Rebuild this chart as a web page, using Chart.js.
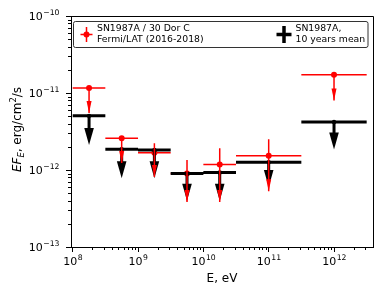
<!DOCTYPE html>
<html>
<head>
<meta charset="utf-8">
<script src="https://cdn.jsdelivr.net/npm/chart.js@4"></script>
<style>
  body { margin: 0; background: #fff; }
  canvas { display: block; }
</style>
</head>
<body>
<canvas id="sed" width="390" height="293"></canvas>
<script>
// energy bins (eV)
const binLo  = [1e8,    3.16e8, 1e9,    3.16e9, 1e10,    3.16e10, 3.16e11];
const binHi  = [3.16e8, 1e9,    3.16e9, 1e10,   3.16e10, 3.16e11, 3.16e12];
const binMid = [1.78e8, 5.62e8, 1.78e9, 5.62e9, 1.78e10, 1e11,    1e12];

// SN1987A / 30 Dor C, Fermi/LAT (2016-2018), erg/cm2/s
const redFlux  = [1.16e-11, 2.58e-12, 1.67e-12, 9.0e-13,  1.18e-12, 1.53e-12, 1.73e-11];
const redErrHi = [1.16e-11, 2.58e-12, 2.22e-12, 1.35e-12, 1.91e-12, 2.5e-12,  1.73e-11];
const redTip   = [5.5e-12,  1.23e-12, 8.1e-13,  3.85e-13, 3.85e-13, 5.3e-13,  7.97e-12];

// SN1987A, 10 years mean (upper limits)
const blackFlux = [5.05e-12, 1.86e-12, 1.82e-12, 9.0e-13, 9.3e-13, 1.26e-12, 4.2e-12];
const blackTip  = [2.11e-12, 7.8e-13,  7.8e-13,  4.0e-13, 4.0e-13, 6.0e-13,  1.85e-12];

// axes
const xTicks = [1e8, 1e9, 1e10, 1e11, 1e12];
const yTicks = [1e-13, 1e-12, 1e-11, 1e-10];
const xMin = 9.42e7, xMax = 3.95e12;
const yMin = 1e-13, yMax = 1e-10;

const redLabel = ['SN1987A / 30 Dor C', 'Fermi/LAT (2016-2018)'];
const blackLabel = ['SN1987A,', '10 years mean'];

const FONT = 'DejaVu Sans';
const RED = '#ff0000';

// "10" + exponent, exponent drawn smaller and raised
function expOf(v) {
  return String(Math.round(Math.log10(v))).replace('-', '\u2212');
}
function drawPow(ctx, v, x, base, align) {
  const big = '11px "' + FONT + '"', small = '7.7px "' + FONT + '"';
  const e = expOf(v);
  ctx.font = big;
  const w1 = ctx.measureText('10').width;
  ctx.font = small;
  const w2 = ctx.measureText(e).width;
  let x0 = x;
  if (align === 'center') x0 = x - (w1 + w2) / 2;
  if (align === 'right') x0 = x - (w1 + w2);
  ctx.textAlign = 'left';
  ctx.textBaseline = 'alphabetic';
  ctx.font = big;
  ctx.fillText('10', x0, base);
  ctx.font = small;
  ctx.fillText(e, x0 + w1 + 0.5, base - 5);
}

// segments with null gaps so one dataset can hold many lines
function hSegments(lo, hi, y) {
  const out = [];
  for (let i = 0; i < y.length; i++) {
    out.push({x: lo[i], y: y[i]}, {x: hi[i], y: y[i]}, {x: hi[i], y: null});
  }
  return out;
}
function vSegments(x, top, bottom) {
  const out = [];
  for (let i = 0; i < x.length; i++) {
    out.push({x: x[i], y: top[i]}, {x: x[i], y: bottom[i]}, {x: x[i], y: null});
  }
  return out;
}
const points = (x, y) => x.map((v, i) => ({x: v, y: y[i]}));

// arrow heads, minor ticks, tick labels, frame, y title, legend
const extras = {
  id: 'extras',
  afterDatasetDraw(chart, args) {
    const ctx = chart.ctx;
    const xs = chart.scales.x, ys = chart.scales.y;
    if (args.index === 1) {
      // black upper-limit arrows
      ctx.save();
      ctx.fillStyle = '#000';
      ctx.strokeStyle = '#000';
      ctx.lineWidth = 3;
      for (let i = 0; i < binMid.length; i++) {
        const px = xs.getPixelForValue(binMid[i]);
        const y0 = ys.getPixelForValue(blackFlux[i]);
        const y1 = ys.getPixelForValue(blackTip[i]);
        const head = 17;
        ctx.beginPath();
        ctx.moveTo(px, y0);
        ctx.lineTo(px, y1 - head + 1);
        ctx.stroke();
        ctx.beginPath();
        ctx.moveTo(px - 4.8, y1 - head);
        ctx.lineTo(px + 4.8, y1 - head);
        ctx.lineTo(px, y1);
        ctx.closePath();
        ctx.fill();
      }
      ctx.restore();
    }
    if (args.index === 0) {
      // red arrow heads
      ctx.save();
      ctx.fillStyle = RED;
      for (let i = 0; i < binMid.length; i++) {
        const px = xs.getPixelForValue(binMid[i]);
        const y1 = ys.getPixelForValue(redTip[i]);
        ctx.beginPath();
        ctx.moveTo(px - 2.5, y1 - 12);
        ctx.lineTo(px + 2.5, y1 - 12);
        ctx.lineTo(px, y1);
        ctx.closePath();
        ctx.fill();
      }
      ctx.restore();
    }
  },
  afterDraw(chart) {
    const ctx = chart.ctx;
    const ca = chart.chartArea;
    const xs = chart.scales.x, ys = chart.scales.y;
    ctx.save();
    ctx.strokeStyle = '#000';
    ctx.lineWidth = 1;

    // minor ticks
    ctx.beginPath();
    for (let e = 7; e <= 12; e++) {
      for (let k = 2; k <= 9; k++) {
        const v = k * Math.pow(10, e);
        if (v < xMin || v > xMax) continue;
        const px = Math.round(xs.getPixelForValue(v)) + 0.5;
        ctx.moveTo(px, ca.bottom);
        ctx.lineTo(px, ca.bottom + 3);
      }
    }
    for (let e = -13; e <= -11; e++) {
      for (let k = 2; k <= 9; k++) {
        const v = k * Math.pow(10, e);
        const py = Math.round(ys.getPixelForValue(v)) + 0.5;
        ctx.moveTo(ca.left, py);
        ctx.lineTo(ca.left - 3, py);
      }
    }
    // top and right frame
    ctx.moveTo(ca.left, Math.round(ca.top) + 0.5);
    ctx.lineTo(Math.round(ca.right) + 0.5, Math.round(ca.top) + 0.5);
    ctx.lineTo(Math.round(ca.right) + 0.5, ca.bottom);
    ctx.stroke();

    // tick labels
    ctx.fillStyle = '#000';
    xTicks.forEach(v => drawPow(ctx, v, xs.getPixelForValue(v), ca.bottom + 18, 'center'));
    yTicks.forEach(v => drawPow(ctx, v, ca.left - 12, ys.getPixelForValue(v) + 4, 'right'));
    ctx.restore();

    // y title: EF_E, erg/cm^2/s
    ctx.save();
    ctx.translate(21, (ca.top + ca.bottom) / 2 - 2);
    ctx.rotate(-Math.PI / 2);
    ctx.fillStyle = '#000';
    ctx.textBaseline = 'alphabetic';
    const parts = [
      {t: 'EF', f: 'italic 12px "' + FONT + '"', dy: 0},
      {t: 'E', f: 'italic 8.4px "' + FONT + '"', dy: 2.5},
      {t: ', erg/cm', f: '12px "' + FONT + '"', dy: 0},
      {t: '2', f: '8.4px "' + FONT + '"', dy: -4.8},
      {t: '/s', f: '12px "' + FONT + '"', dy: 0}
    ];
    let total = 0;
    parts.forEach(p => { ctx.font = p.f; p.w = ctx.measureText(p.t).width; total += p.w; });
    let cx = -total / 2;
    parts.forEach(p => { ctx.font = p.f; ctx.fillText(p.t, cx, p.dy); cx += p.w; });
    ctx.restore();

    // legend
    ctx.save();
    const lx0 = ca.left + 2, ly0 = ca.top + 5, lx1 = ca.right - 5.5, ly1 = ca.top + 31;
    ctx.beginPath();
    ctx.roundRect(lx0 + 0.5, ly0 + 0.5, lx1 - lx0, ly1 - ly0, 2);
    ctx.fillStyle = 'rgba(255,255,255,0.85)';
    ctx.fill();
    ctx.strokeStyle = '#333';
    ctx.lineWidth = 1;
    ctx.stroke();

    const hy = (ly0 + ly1) / 2 + 0.5;
    // red handle
    const rx = ca.left + 15.5;
    ctx.strokeStyle = RED;
    ctx.fillStyle = RED;
    ctx.lineWidth = 1.5;
    ctx.beginPath();
    ctx.moveTo(rx - 6, hy); ctx.lineTo(rx + 6, hy);
    ctx.moveTo(rx, hy - 7.5); ctx.lineTo(rx, hy + 7.5);
    ctx.stroke();
    ctx.beginPath();
    ctx.arc(rx, hy, 3, 0, Math.PI * 2);
    ctx.fill();
    // black handle
    const bx = ca.left + 213;
    ctx.strokeStyle = '#000';
    ctx.lineWidth = 3.5;
    ctx.beginPath();
    ctx.moveTo(bx - 7.5, hy); ctx.lineTo(bx + 7.5, hy);
    ctx.moveTo(bx, hy - 8.5); ctx.lineTo(bx, hy + 8.5);
    ctx.stroke();

    ctx.fillStyle = '#000';
    ctx.font = '9.3px "' + FONT + '"';
    ctx.textBaseline = 'middle';
    ctx.textAlign = 'left';
    ctx.fillText(redLabel[0], ca.left + 26, hy - 5.7);
    ctx.fillText(redLabel[1], ca.left + 26, hy + 5.3);
    ctx.fillText(blackLabel[0], ca.left + 224.5, hy - 5.7);
    ctx.fillText(blackLabel[1], ca.left + 224.5, hy + 5.3);
    ctx.restore();
  }
};

new Chart(document.getElementById('sed'), {
  type: 'scatter',
  data: {
    datasets: [
      {
        label: 'red errors',
        data: vSegments(binMid, redErrHi, redTip),
        showLine: true, borderColor: RED, borderWidth: 1.5,
        pointRadius: 0, order: 0
      },
      {
        label: 'black markers',
        data: points(binMid, blackFlux),
        backgroundColor: '#000', borderColor: '#000',
        pointRadius: 2.2, borderWidth: 0, order: 1
      },
      {
        label: 'black bins',
        data: hSegments(binLo, binHi, blackFlux),
        showLine: true, borderColor: '#000', borderWidth: 3,
        pointRadius: 0, order: 2
      },
      {
        label: 'red points',
        data: points(binMid, redFlux),
        backgroundColor: RED, borderColor: RED,
        pointRadius: 3, borderWidth: 0, order: 3
      },
      {
        label: 'red bins',
        data: hSegments(binLo, binHi, redFlux),
        showLine: true, borderColor: RED, borderWidth: 1.5,
        pointRadius: 0, order: 4
      }
    ]
  },
  options: {
    responsive: false,
    animation: false,
    layout: { padding: { left: 26, right: 17, top: 16, bottom: 0 } },
    plugins: { legend: { display: false }, tooltip: { enabled: false } },
    scales: {
      x: {
        type: 'logarithmic', min: xMin, max: xMax,
        afterFit: s => { s.height = 46; },
        afterBuildTicks: s => { s.ticks = xTicks.map(v => ({value: v})); },
        ticks: {
          callback: () => '', autoSkip: false, maxRotation: 0,
          font: { family: FONT, size: 11 }, color: '#000', padding: 2
        },
        grid: { drawOnChartArea: false, tickLength: 5, tickColor: '#000', tickWidth: 1 },
        border: { color: '#000', width: 1 },
        title: { display: true, text: 'E, eV', color: '#000',
                 font: { family: FONT, size: 12 }, padding: { top: 2, bottom: 7 } }
      },
      y: {
        type: 'logarithmic', min: yMin, max: yMax,
        afterFit: s => { s.width = 45; },
        afterBuildTicks: s => { s.ticks = yTicks.map(v => ({value: v})); },
        ticks: {
          callback: () => '', autoSkip: false,
          font: { family: FONT, size: 11 }, color: '#000', padding: 7
        },
        grid: { drawOnChartArea: false, tickLength: 5, tickColor: '#000', tickWidth: 1 },
        border: { color: '#000', width: 1 }
      }
    }
  },
  plugins: [extras]
});
</script>
</body>
</html>
